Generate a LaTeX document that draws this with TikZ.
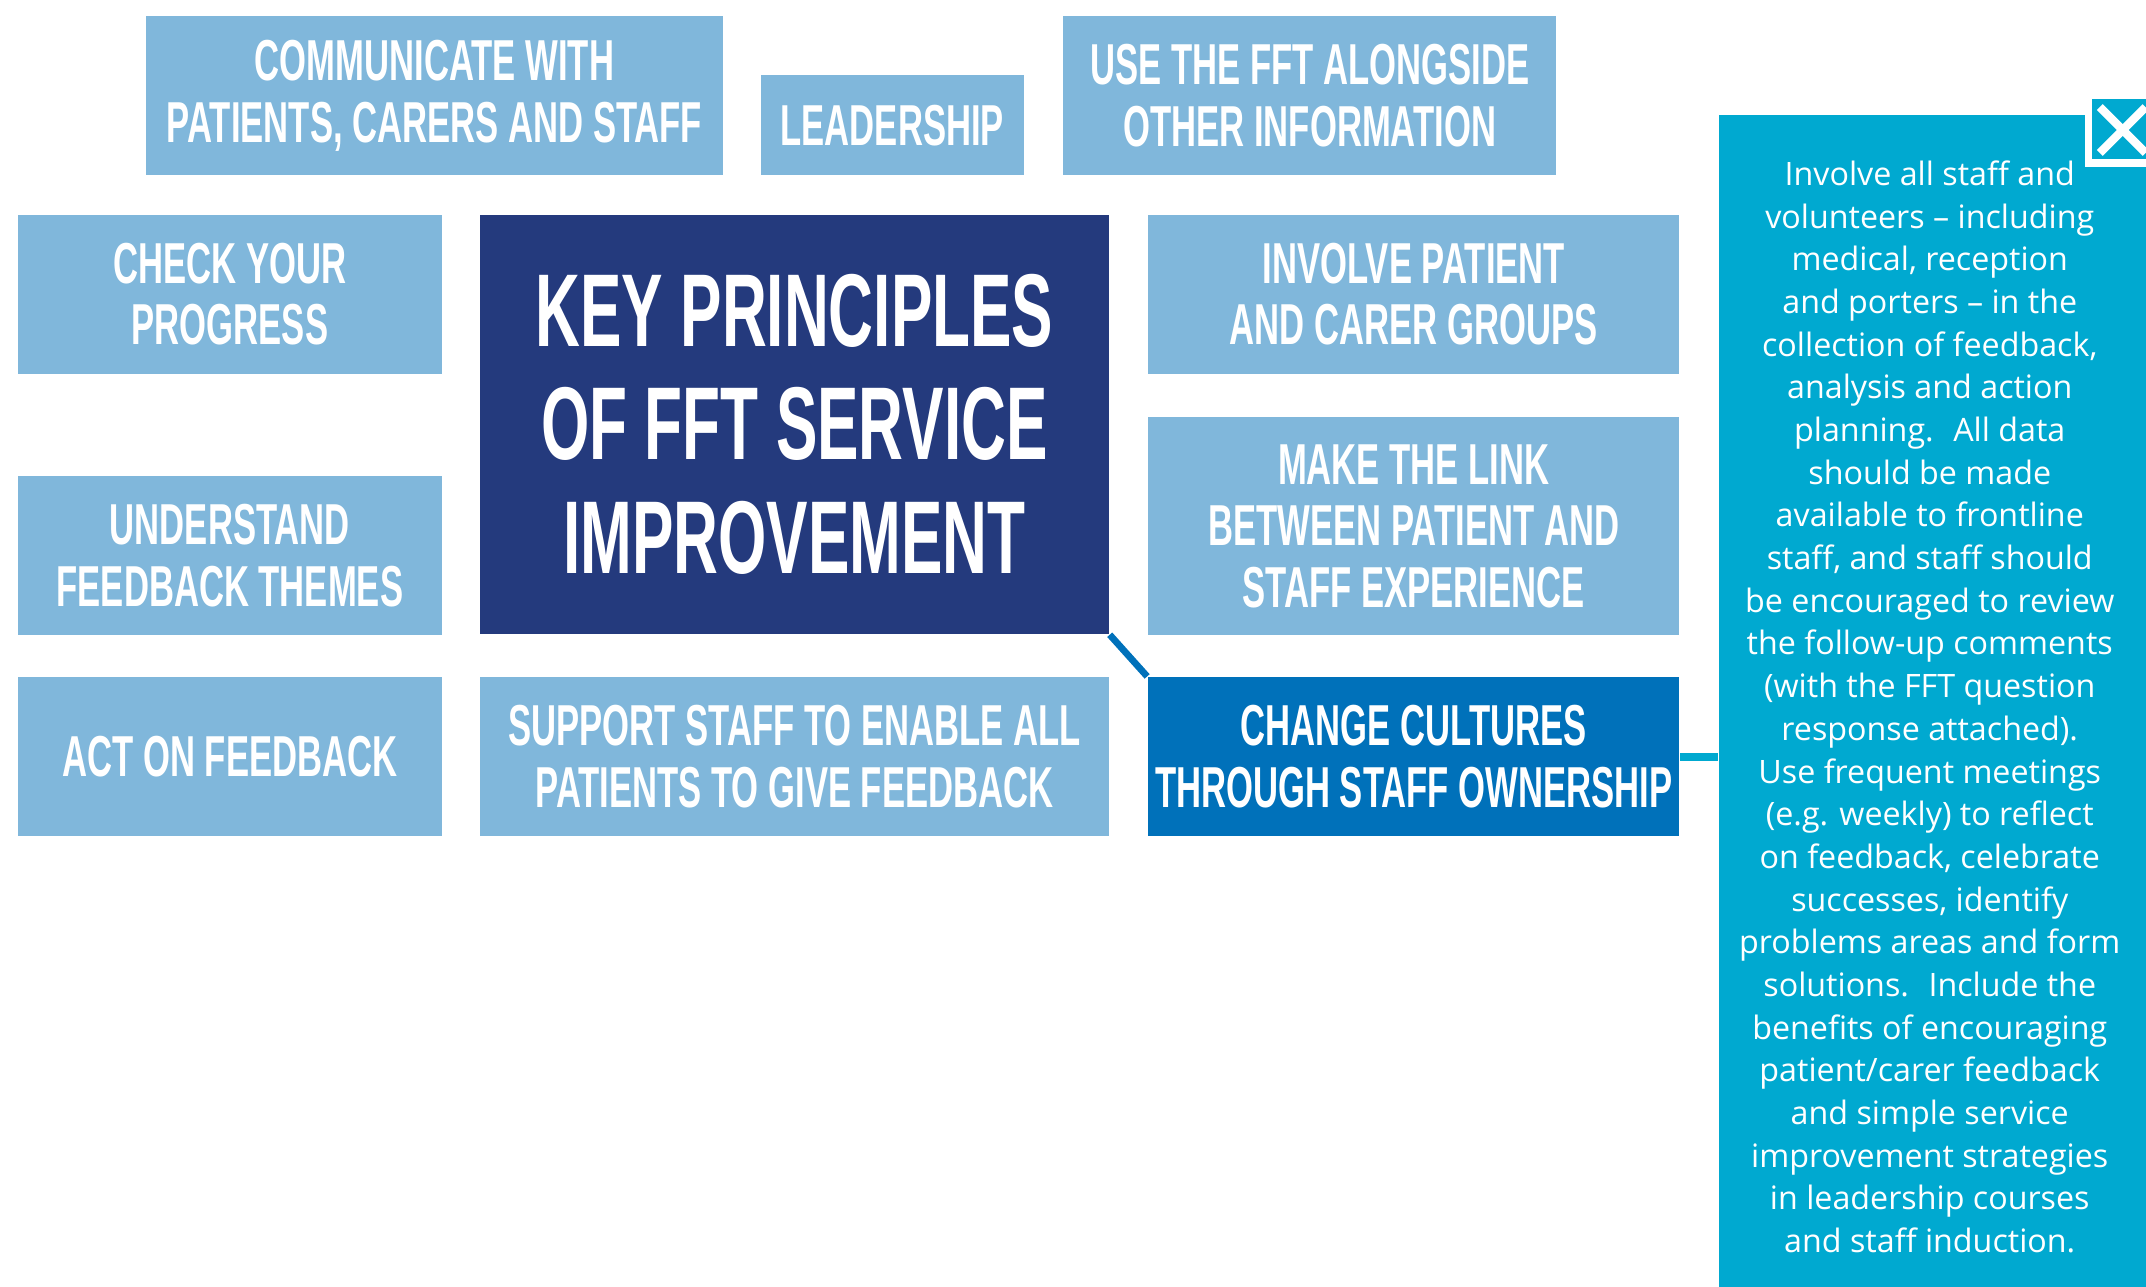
\documentclass[tikz,border=0pt]{standalone}
\usepackage{fontspec}
\usepackage{tikz}
\usetikzlibrary{calc}
\newfontfamily\headfont{Liberation Sans Bold}[FakeStretch=0.60]
\newfontfamily\bodyfont{Open Sans}
\definecolor{boxblue}{RGB}{128,183,219}
\definecolor{keyblue}{RGB}{36,58,125}
\definecolor{changeblue}{RGB}{0,113,186}
\definecolor{panelcyan}{RGB}{0,169,208}

\begin{document}
\begin{tikzpicture}[x=0.01cm,y=-0.01cm,
    principle/.style={fill=boxblue,text=white,inner sep=0pt,align=center,
      font=\headfont\fontsize{12}{12.8}\selectfont},
    keybox/.style={principle,fill=keyblue,font=\headfont\fontsize{21.5}{23.6}\selectfont},
    chosen/.style={principle,fill=changeblue},
    notebox/.style={fill=panelcyan,inner sep=0pt},
    notetext/.style={text=white,align=center,inner sep=0pt,
      font=\bodyfont\fontsize{6.7}{8.87}\selectfont},
    closebox/.style={fill=panelcyan,inner sep=0pt,
      minimum width=0.448cm,minimum height=0.442cm},
    crossline/.style={white,line width=1.75pt},
    keylink/.style={changeblue,line width=1.4pt},
    notelink/.style={panelcyan,line width=1.7pt}]
    \useasboundingbox (0,0) rectangle (1568,940);
    \node[principle,minimum width=4.21cm,minimum height=1.16cm] (communicate) at (317.5,70) {COMMUNICATE WITH\\PATIENTS, CARERS AND STAFF};
    \node[principle,minimum width=1.92cm,minimum height=0.73cm] (leadership) at (652,91.5) {LEADERSHIP};
    \node[principle,minimum width=3.60cm,minimum height=1.16cm] (alongside) at (957,70) {USE THE FFT ALONGSIDE\\OTHER INFORMATION};
    \node[principle,minimum width=3.10cm,minimum height=1.16cm] (progress) at (168,215) {CHECK YOUR\\PROGRESS};
    \node[keybox,minimum width=4.59cm,minimum height=3.06cm] (key) at (580.5,310) {KEY PRINCIPLES\\OF FFT SERVICE\\IMPROVEMENT};
    \node[principle,minimum width=3.88cm,minimum height=1.16cm] (groups) at (1033,215) {INVOLVE PATIENT\\AND CARER GROUPS};
    \node[principle,minimum width=3.10cm,minimum height=1.16cm] (themes) at (168,406) {UNDERSTAND\\FEEDBACK THEMES};
    \node[principle,minimum width=3.88cm,minimum height=1.59cm] (link) at (1033,384.5) {MAKE THE LINK\\BETWEEN PATIENT AND\\STAFF EXPERIENCE};
    \node[principle,minimum width=3.10cm,minimum height=1.16cm] (act) at (168,553) {ACT ON FEEDBACK};
    \node[principle,minimum width=4.59cm,minimum height=1.16cm] (support) at (580.5,553) {SUPPORT STAFF TO ENABLE ALL\\PATIENTS TO GIVE FEEDBACK};
    \node[chosen,minimum width=3.88cm,minimum height=1.16cm] (change) at (1033,553) {CHANGE CULTURES\\THROUGH STAFF OWNERSHIP};
    \node[notebox,minimum width=3.20cm,minimum height=8.66cm] (note) at (1416,517) {};
    \node[notetext] (notetxt) at (1410,516.5) {Involve all staff and\\volunteers – including\\medical, reception\\and porters – in the\\collection of feedback,\\analysis and action\\planning.~ All data\\should be made\\available to frontline\\staff, and staff should\\be encouraged to review\\the follow-up comments\\(with the FFT question\\response attached).\\Use frequent meetings\\(e.g. weekly) to reflect\\on feedback, celebrate\\successes, identify\\problems areas and form\\solutions.~ Include the\\benefits of encouraging\\patient/carer feedback\\and simple service\\improvement strategies\\in leadership courses\\and staff induction.};
    \fill[white] (1523.5,67) rectangle (1575,122);
    \node[closebox] (close) at (1551,94.4) {};
    \draw[crossline] ($(close.north west)+(6.4,6.7)$) -- ($(close.south east)+(-6.4,-5.5)$);
    \draw[crossline] ($(close.south west)+(6.4,-5.5)$) -- ($(close.north east)+(-6.4,6.7)$);
    \draw[keylink] (key.south east) -- (change.north west);
    \draw[notelink] (change.east) -- (change.east -| note.west);
\end{tikzpicture}
\end{document}
